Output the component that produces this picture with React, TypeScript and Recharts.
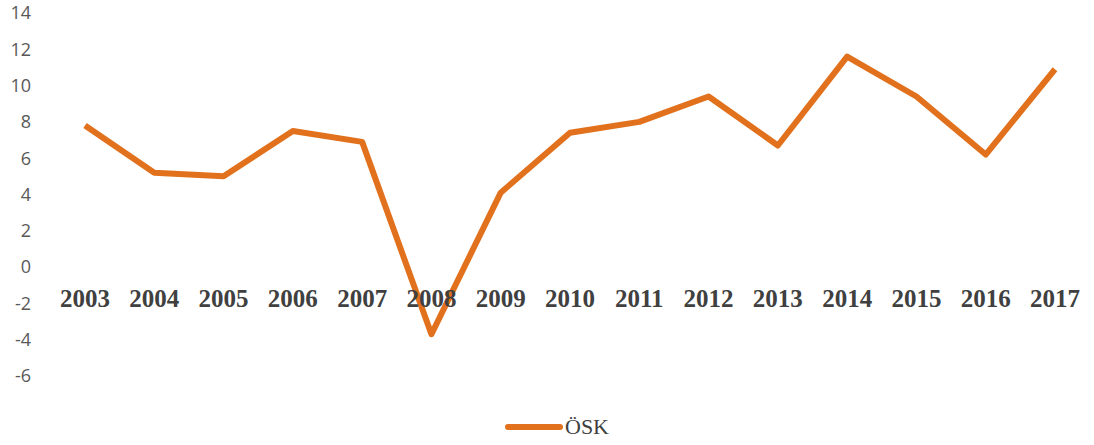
import { LineChart, Line, XAxis, YAxis } from "recharts"

const YEARS = [
  "2003", "2004", "2005", "2006", "2007", "2008", "2009", "2010",
  "2011", "2012", "2013", "2014", "2015", "2016", "2017",
]
const OSK = [7.8, 5.2, 5.0, 7.5, 6.9, -3.7, 4.1, 7.4, 8.0, 9.4, 6.7, 11.6, 9.4, 6.2, 10.9]
const Y_TICKS = [-6, -4, -2, 0, 2, 4, 6, 8, 10, 12, 14]

const W = 1094
const H = 445
const XAXIS_H = 30
const MARGIN = { top: 13, right: 39, bottom: 69 - XAXIS_H, left: 25 }
const PLOT_H = H - 13 - 69
const Y_MIN = -6
const Y_MAX = 14
const ORANGE = "#E2711D"

const data = YEARS.map((year, i) => ({ year, osk: OSK[i] }))

// x labels sit just under the zero line, like Excel's "next to axis"
function YearTick(props: any) {
  const { x, payload } = props
  const zeroY = MARGIN.top + (PLOT_H * Y_MAX) / (Y_MAX - Y_MIN)
  return (
    <text
      x={x}
      y={zeroY + 40}
      textAnchor="middle"
      fill="#404040"
      fontFamily="'Liberation Serif', 'Times New Roman', serif"
      fontWeight="bold"
      fontSize={25}
    >
      {payload.value}
    </text>
  )
}

function LegendBox() {
  return (
    <div
      style={{
        position: "absolute",
        left: 505,
        top: 414,
        display: "flex",
        alignItems: "center",
      }}
    >
      <span
        style={{
          display: "inline-block",
          width: 58,
          height: 6,
          borderRadius: 3,
          backgroundColor: ORANGE,
        }}
      />
      <span
        style={{
          fontFamily: "'Liberation Serif', 'Times New Roman', serif",
          fontSize: 22,
          color: "#404040",
          marginLeft: 2,
        }}
      >
        ÖSK
      </span>
    </div>
  )
}

export default function App() {
  return (
    <div style={{ position: "absolute", left: 0, top: 0, width: W, height: H, background: "#fff" }}>
      <LineChart width={W} height={H} data={data} margin={MARGIN}>
        <XAxis
          dataKey="year"
          height={XAXIS_H}
          axisLine={false}
          tickLine={false}
          interval={0}
          tick={<YearTick />}
        />
        <YAxis
          domain={[Y_MIN, Y_MAX]}
          ticks={Y_TICKS}
          width={60}
          axisLine={false}
          tickLine={false}
          interval={0}
          tick={{
            fill: "#595959",
            fontSize: 18,
            fontFamily: "'Open Sans', sans-serif",
            dx: -46,
          }}
        />
        <Line
          type="linear"
          dataKey="osk"
          stroke={ORANGE}
          strokeWidth={6}
          strokeLinejoin="round"
          dot={false}
          activeDot={false}
          isAnimationActive={false}
        />
      </LineChart>
      <LegendBox />
    </div>
  )
}
